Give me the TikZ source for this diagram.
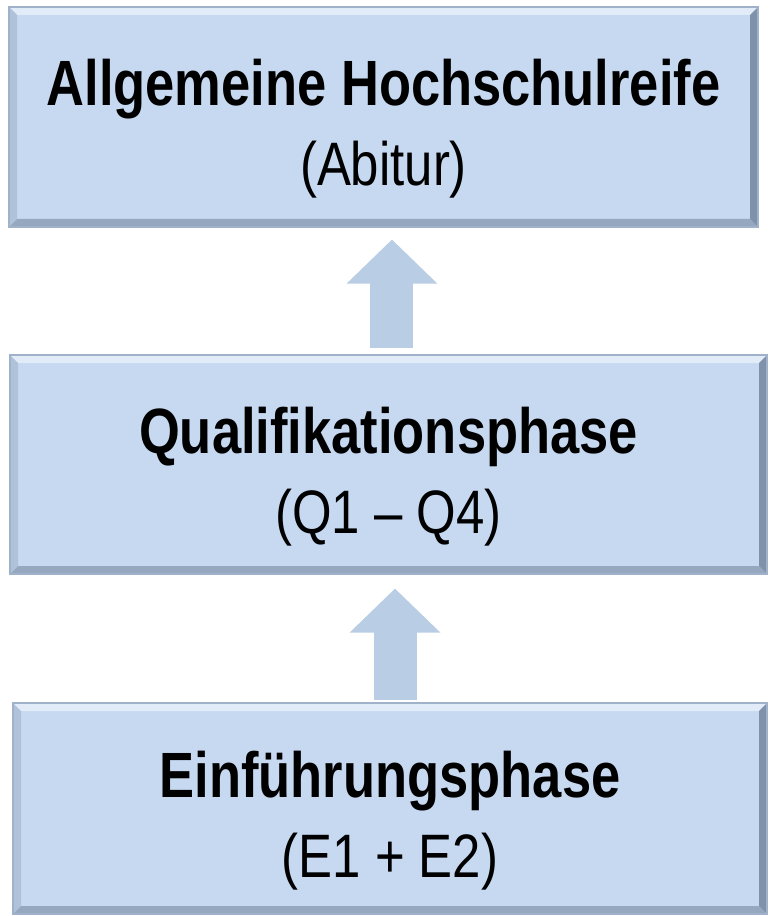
\documentclass[tikz,border=0pt]{standalone}
\usepackage{fontspec}
\setmainfont{Liberation Sans}
\usepackage{tikz}
\usetikzlibrary{arrows.meta}

\definecolor{boxface}{RGB}{198,217,241}
\definecolor{boxedge}{RGB}{160,178,202}
\definecolor{bevtop}{RGB}{226,236,248}
\definecolor{bevleft}{RGB}{176,194,218}
\definecolor{bevbottom}{RGB}{150,168,192}
\definecolor{bevright}{RGB}{128,146,170}
\definecolor{arrowfill}{RGB}{185,205,229}

\newcommand{\narrowbf}[1]{\rule{0pt}{53pt}\scalebox{0.82}[1]{\fontsize{48}{60}\selectfont\bfseries #1}}
\newcommand{\narrowrm}[1]{\scalebox{0.83}[1]{\fontsize{46}{60}\selectfont #1}}
\def\bv{6pt}

\begin{document}
\begin{tikzpicture}[x=0.75pt, y=-0.75pt, phasebox/.style={
		% The shape:
		rectangle, inner sep=0pt, align=center,
		% The text
		font=\fontsize{48}{60}\selectfont,
		% The border
		draw=boxedge, line width=0.8pt,
		% The filling
		fill=boxface,
		% The bevel
		path picture={
		  \fill[bevtop] (path picture bounding box.north west) -- (path picture bounding box.north east)
		    -- ([shift={(-\bv,-\bv)}]path picture bounding box.north east) -- ([shift={(\bv,-\bv)}]path picture bounding box.north west) -- cycle;
		  \fill[bevleft] (path picture bounding box.north west) -- (path picture bounding box.south west)
		    -- ([shift={(\bv,\bv)}]path picture bounding box.south west) -- ([shift={(\bv,-\bv)}]path picture bounding box.north west) -- cycle;
		  \fill[bevbottom] (path picture bounding box.south west) -- (path picture bounding box.south east)
		    -- ([shift={(-\bv,\bv)}]path picture bounding box.south east) -- ([shift={(\bv,\bv)}]path picture bounding box.south west) -- cycle;
		  \fill[bevright] (path picture bounding box.north east) -- (path picture bounding box.south east)
		    -- ([shift={(-\bv,\bv)}]path picture bounding box.south east) -- ([shift={(-\bv,-\bv)}]path picture bounding box.north east) -- cycle;
		}},
	upblock/.style={draw=arrowfill, line width=32.25pt,
		-{Triangle[width=66pt, length=33pt]}}]

    \useasboundingbox (0,0) rectangle (769,916);

    \node[phasebox, minimum width=561.75pt, minimum height=165pt] (abitur) at (383.5,117)
      {\narrowbf{Allgemeine Hochschulreife}\\\narrowrm{(Abitur)}};
    \node[phasebox, minimum width=567.75pt, minimum height=164.25pt] (qphase) at (388.5,464.5)
      {\narrowbf{Qualifikationsphase}\\\narrowrm{(Q1 -- Q4)}};
    \node[phasebox, minimum width=565.5pt, minimum height=158.25pt] (ephase) at (390,808.5)
      {\narrowbf{Einführungsphase}\\\narrowrm{(E1 + E2)}};

    \coordinate (q1) at ([xshift=2.6pt, yshift=4.5pt]qphase.north);
    \coordinate (e1) at ([xshift=3.75pt, yshift=1.5pt]ephase.north);
    \draw[upblock, shorten >=9pt] (q1) -- (q1 |- abitur.south);
    \draw[upblock, shorten >=10.5pt] (e1) -- (e1 |- qphase.south);

\end{tikzpicture}
\end{document}
